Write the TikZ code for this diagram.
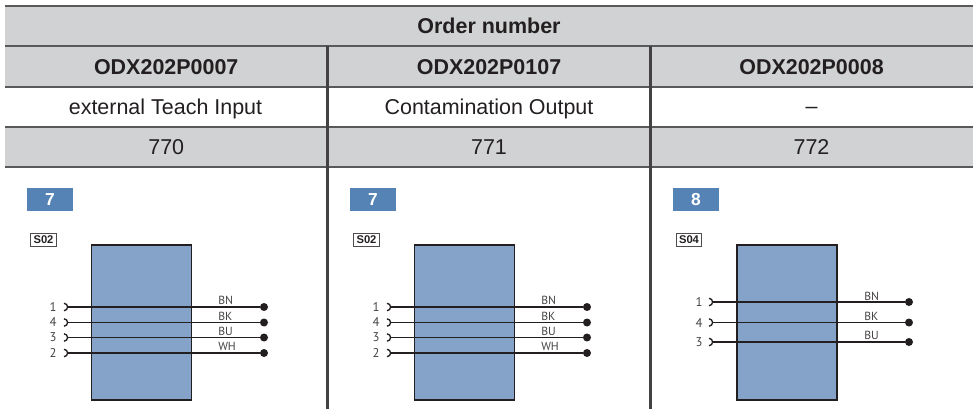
\documentclass[tikz,border=0pt]{standalone}
\usepackage{fontspec}
\setmainfont{Liberation Sans}
\newfontfamily\dinfont{PT Sans}
\usetikzlibrary{arrows.meta}
\definecolor{headgray}{HTML}{D0D2D3}
\definecolor{rulegray}{HTML}{58595B}
\definecolor{inkblack}{HTML}{231F20}
\definecolor{boxblue}{HTML}{85A3C9}
\definecolor{badgeblue}{HTML}{5583B5}
\tikzset{
  cell/.style={inner sep=0pt, minimum height=40pt*0.75, text=inkblack, font=\fontsize{16.1}{18}\selectfont},
  shaded/.style={cell, fill=headgray},
  hrule/.style={rulegray, line width=1.3pt},
  vrule/.style={inkblack!85, line width=1.6pt},
  badge/.style={fill=badgeblue, text=white, inner sep=0pt, minimum width=34.5pt, minimum height=17.5pt, font=\fontsize{13}{15}\selectfont\bfseries},
  tag/.style={draw=inkblack!80, line width=0.7pt, fill=white, inner sep=0pt, minimum width=19pt, minimum height=9.5pt, text=inkblack, font=\fontsize{8.4}{9}\selectfont\bfseries},
  housing/.style={draw=inkblack, line width=1.1pt, fill=boxblue, inner sep=0pt, minimum width=75pt, minimum height=116pt},
  wire/.style={draw=inkblack, line width=1.1pt, {Arc Barb[reversed, length=3.2pt, width=6.5pt, line width=1pt]}-},
  dot/.style={fill=inkblack, circle, inner sep=0pt, minimum size=6pt},
  pinno/.style={text=inkblack!85, inner sep=0pt, font=\dinfont\fontsize{9.5}{10}\selectfont},
  wireno/.style={text=inkblack!85, inner sep=0pt, anchor=west, font=\dinfont\fontsize{8.8}{10}\selectfont}
}
\begin{document}
\begin{tikzpicture}[x=0.75pt, y=-0.75pt]
    \useasboundingbox (0,0) rectangle (973,409);

    % table
    \node [shaded, minimum width=726pt] (title) at (489, 26) {\bfseries Order number};
    \node [shaded, minimum width=242.25pt] (code1) at (166.25, 67) {\bfseries ODX202P0007};
    \node [shaded, minimum width=242.25pt] (code2) at (489, 67) {\bfseries ODX202P0107};
    \node [shaded, minimum width=242.25pt] (code3) at (811.5, 67) {\bfseries ODX202P0008};
    \node [cell] (func1) at (165.5, 108.5) {external Teach Input};
    \node [cell] (func2) at (489, 108.5) {Contamination Output};
    \node [cell] (func3) at (811.5, 110) {--};
    \node [shaded, minimum width=242.25pt] (no1) at (166.25, 147.5) {770};
    \node [shaded, minimum width=242.25pt] (no2) at (489, 147.5) {771};
    \node [shaded, minimum width=242.25pt] (no3) at (811.5, 147.5) {772};

    \coordinate (L0) at (5, 6);
    \coordinate (R0) at (973, 6);
    \coordinate (L1) at (5, 46);
    \coordinate (R1) at (973, 46);
    \coordinate (L2) at (5, 87);
    \coordinate (R2) at (973, 87);
    \coordinate (L3) at (5, 127);
    \coordinate (R3) at (973, 127);
    \coordinate (L4) at (5, 167);
    \coordinate (R4) at (973, 167);
    \draw [hrule] (L0) to (R0);
    \draw [hrule] (L1) to (R1);
    \draw [hrule] (L2) to (R2);
    \draw [hrule] (L3) to (R3);
    \draw [hrule] (L4) to (R4);

    \coordinate (V1T) at (327.5, 46);
    \coordinate (V1B) at (327.5, 409);
    \coordinate (V2T) at (650.5, 46);
    \coordinate (V2B) at (650.5, 409);
    \draw [vrule] (V1T) to (V1B);
    \draw [vrule] (V2T) to (V2B);

    % first column
    \node [badge] (badgeA) at (50, 199.5) {7};
    \node [tag] (tagA) at (43.5, 240) {S02};
    \node [housing] (boxA) at (141.7, 322.5) {};
    \coordinate (A1) at (64, 307);
    \coordinate (A2) at (64, 322.5);
    \coordinate (A3) at (64, 337.5);
    \coordinate (A4) at (64, 353);
    \node [dot] (A1D) at (264, 307) {};
    \node [dot] (A2D) at (264, 322.5) {};
    \node [dot] (A3D) at (264, 337.5) {};
    \node [dot] (A4D) at (264, 353) {};
    \draw [wire] (A1) to (A1D);
    \draw [wire] (A2) to (A2D);
    \draw [wire] (A3) to (A3D);
    \draw [wire] (A4) to (A4D);
    \node [pinno] (A1N) at (53, 306.5) {1};
    \node [pinno] (A2N) at (53, 322) {4};
    \node [pinno] (A3N) at (53, 337) {3};
    \node [pinno] (A4N) at (53, 353) {2};
    \node [wireno] (A1W) at (218, 300) {BN};
    \node [wireno] (A2W) at (218, 316) {BK};
    \node [wireno] (A3W) at (218, 331) {BU};
    \node [wireno] (A4W) at (218, 346) {WH};

    % second column
    \node [badge] (badgeB) at (373, 199.5) {7};
    \node [tag] (tagB) at (366.5, 240) {S02};
    \node [housing] (boxB) at (464.7, 322.5) {};
    \coordinate (B1) at (387, 307);
    \coordinate (B2) at (387, 322.5);
    \coordinate (B3) at (387, 337.5);
    \coordinate (B4) at (387, 353);
    \node [dot] (B1D) at (587, 307) {};
    \node [dot] (B2D) at (587, 322.5) {};
    \node [dot] (B3D) at (587, 337.5) {};
    \node [dot] (B4D) at (587, 353) {};
    \draw [wire] (B1) to (B1D);
    \draw [wire] (B2) to (B2D);
    \draw [wire] (B3) to (B3D);
    \draw [wire] (B4) to (B4D);
    \node [pinno] (B1N) at (376, 306.5) {1};
    \node [pinno] (B2N) at (376, 322) {4};
    \node [pinno] (B3N) at (376, 337) {3};
    \node [pinno] (B4N) at (376, 353) {2};
    \node [wireno] (B1W) at (541, 300) {BN};
    \node [wireno] (B2W) at (541, 316) {BK};
    \node [wireno] (B3W) at (541, 331) {BU};
    \node [wireno] (B4W) at (541, 346) {WH};

    % third column
    \node [badge] (badgeC) at (696, 199.5) {8};
    \node [tag] (tagC) at (689, 240) {S04};
    \node [housing] (boxC) at (787, 322.5) {};
    \coordinate (C1) at (709, 302);
    \coordinate (C2) at (709, 322.5);
    \coordinate (C3) at (709, 342);
    \node [dot] (C1D) at (909, 302) {};
    \node [dot] (C2D) at (909, 322.5) {};
    \node [dot] (C3D) at (909, 342) {};
    \draw [wire] (C1) to (C1D);
    \draw [wire] (C2) to (C2D);
    \draw [wire] (C3) to (C3D);
    \node [pinno] (C1N) at (699, 302) {1};
    \node [pinno] (C2N) at (699, 323) {4};
    \node [pinno] (C3N) at (699, 342) {3};
    \node [wireno] (C1W) at (864, 296) {BN};
    \node [wireno] (C2W) at (864, 316) {BK};
    \node [wireno] (C3W) at (864, 335) {BU};
\end{tikzpicture}
\end{document}
